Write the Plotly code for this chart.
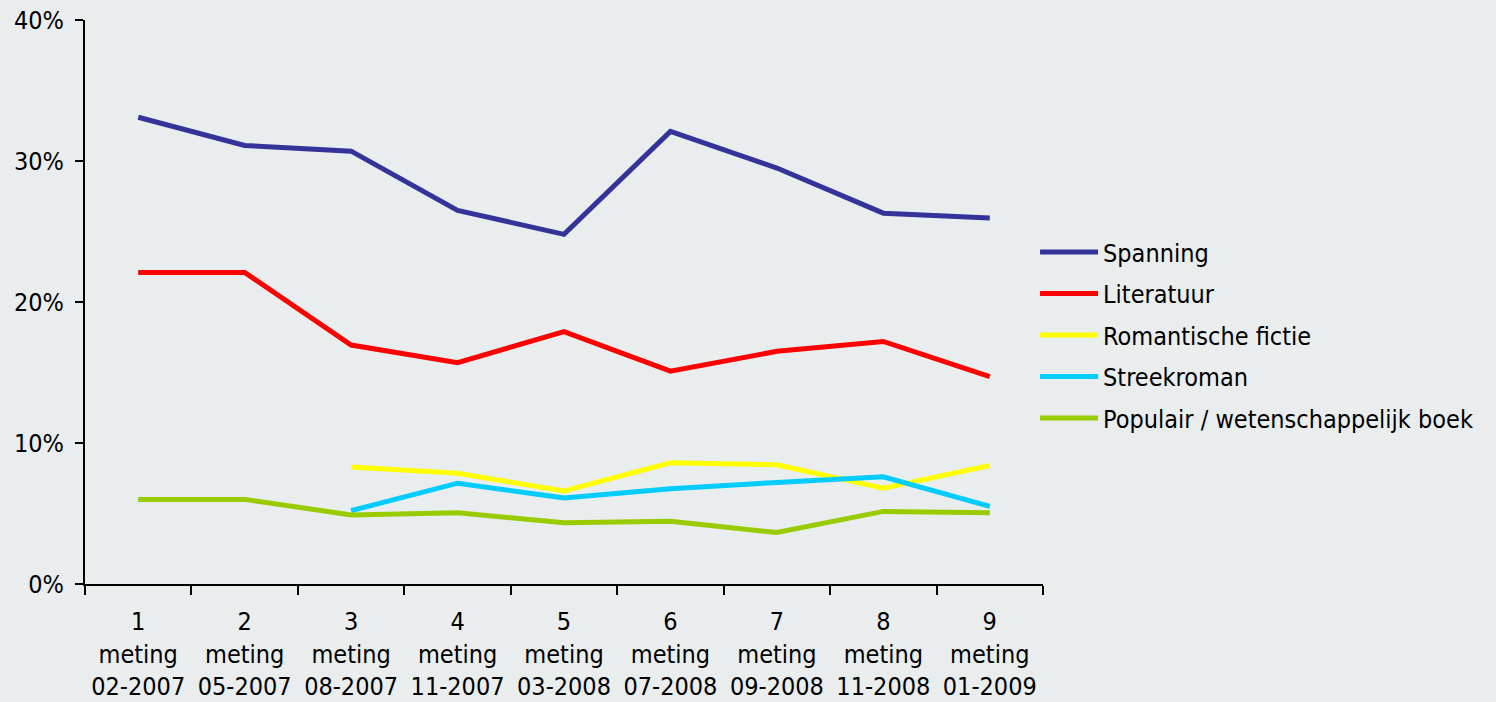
import plotly.graph_objects as go

categories = ["1<br>meting<br>02-2007", "2<br>meting<br>05-2007", "3<br>meting<br>08-2007",
              "4<br>meting<br>11-2007", "5<br>meting<br>03-2008", "6<br>meting<br>07-2008",
              "7<br>meting<br>09-2008", "8<br>meting<br>11-2008", "9<br>meting<br>01-2009"]

spanning = [33.1, 31.1, 30.7, 26.5, 24.8, 32.1, 29.5, 26.3, 25.95]
literatuur = [22.1, 22.1, 16.95, 15.7, 17.9, 15.1, 16.5, 17.2, 14.7]
romantische = [None, None, 8.3, 7.85, 6.6, 8.6, 8.45, 6.8, 8.4]
streekroman = [None, None, 5.2, 7.15, 6.1, 6.75, 7.2, 7.6, 5.5]
populair = [6.0, 6.0, 4.9, 5.05, 4.35, 4.45, 3.65, 5.15, 5.05]

series = [
    ("Spanning", spanning, "#333399"),
    ("Literatuur", literatuur, "#FF0000"),
    ("Romantische fictie", romantische, "#FFFF00"),
    ("Streekroman", streekroman, "#00CCFF"),
    ("Populair / wetenschappelijk boek", populair, "#99CC00"),
]

font_family = "Tahoma, 'DejaVu Sans Condensed', 'DejaVu Sans', sans-serif"

fig = go.Figure()
for i, (name, vals, color) in enumerate(series):
    fig.add_trace(go.Scatter(
        x=categories, y=vals, name=name, mode="lines", legendgroup=f"g{i}",
        line=dict(color=color, width=5), connectgaps=False,
    ))

bg = "#E9EDEE"
fig.update_layout(
    width=1496, height=702,
    paper_bgcolor=bg, plot_bgcolor=bg,
    margin=dict(l=85, r=453, t=20, b=118, autoexpand=False),
    font=dict(family=font_family, size=25, color="#000000"),
    showlegend=True,
    legend=dict(
        x=0.9917, y=0.441, xanchor="left", yanchor="middle",
        bgcolor="rgba(0,0,0,0)", font=dict(size=25),
        itemwidth=58, traceorder="grouped", tracegroupgap=6,
    ),
    xaxis=dict(
        type="category", range=[-0.5, 8.5], tickson="boundaries",
        showline=True, linecolor="#000000", linewidth=2,
        ticks="outside", ticklen=9, tickwidth=2, tickcolor="#000000",
        showgrid=False, zeroline=False, tickfont=dict(size=25),
        ticklabelstandoff=14, tickangle=0, automargin=False,
    ),
    yaxis=dict(
        range=[0, 40], dtick=10, ticksuffix="%",
        showline=True, linecolor="#000000", linewidth=2,
        ticks="outside", ticklen=8, tickwidth=2, tickcolor="#000000",
        showgrid=False, zeroline=False, tickfont=dict(size=25),
        ticklabelstandoff=6, automargin=False,
    ),
)

fig.write_html(
    "out.html",
    config={"displayModeBar": False},
    post_script="document.body.style.margin='0';document.body.style.overflow='hidden';",
)
